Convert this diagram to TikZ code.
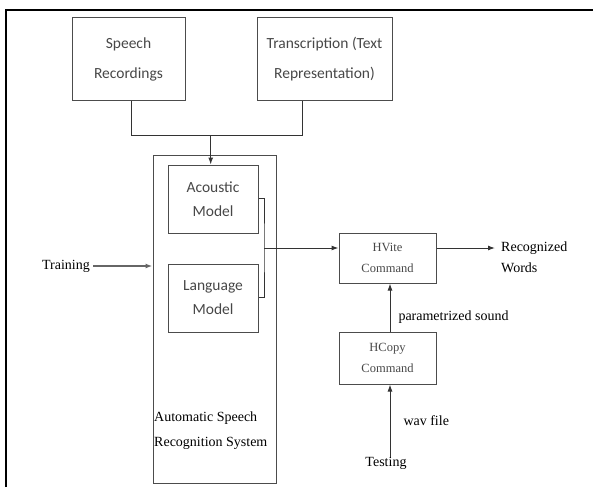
\documentclass[tikz,border=0pt]{standalone}
\usepackage{fontspec}
\setmainfont{Liberation Serif}
\newfontfamily\boxfont{Carlito}
\usetikzlibrary{arrows.meta}

\begin{document}
\begin{tikzpicture}[x=1pt,y=-1pt,
    box/.style={draw=black!70, line width=1pt, rectangle, inner sep=0pt,
      align=center, text=black!72},
    srcbox/.style={box, minimum height=82pt, font=\boxfont\fontsize{15.5}{30}\selectfont},
    modelbox/.style={box, minimum width=90pt, minimum height=68pt, font=\boxfont\fontsize{15.5}{24}\selectfont},
    cmdbox/.style={box, minimum width=97pt, font=\fontsize{12.5}{21}\selectfont},
    lbl/.style={font=\fontsize{14}{21}\selectfont, inner sep=0pt, align=left},
    conn/.style={draw=black!80, line width=1pt},
    arr/.style={conn, -{Latex[length=7pt,width=5pt]}}]
  \useasboundingbox (0,0) rectangle (593,487);
  % frame
  \draw[line width=2.5pt] (6,487) -- (6,10) -- (593,10);

  % inputs
  \node[srcbox, minimum width=113pt] (speech) at (128.5,59) {Speech\\Recordings};
  \node[srcbox, minimum width=135pt] (trans) at (324.5,59) {Transcription (Text\\Representation)};

  % recognizer
  \node[box, minimum width=123pt, minimum height=328pt] (asr) at (214.5,319) {};
  \node[modelbox] (acoustic) at (213,199) {Acoustic\\Model};
  \node[modelbox] (language) at (213,298) {Language\\Model};
  \node[lbl, anchor=west, font=\fontsize{14}{25}\selectfont] (asrtext) at (154,431)
    {Automatic Speech\\Recognition System};

  % commands
  \node[cmdbox, minimum height=50pt] (hvite) at (387.5,258) {HVite\\Command};
  \node[cmdbox, minimum height=52pt] (hcopy) at (387.5,358) {HCopy\\Command};

  \node[lbl] (training) at (66,266) {Training};
  \node[lbl] (testing) at (386,463) {Testing};
  \node[lbl, anchor=west] (words) at (501,257) {Recognized\\Words};

  \coordinate (join) at (210.7,135);
  \coordinate (merge) at (264,248);

  % connectors
  \draw[conn] (speech.south -| 131.6,0) |- ([xshift=-22pt]trans.south |- join)
    -- ([xshift=-22pt]trans.south);
  \draw[arr] (join) -- (join |- acoustic.north);
  \draw[conn] ([yshift=1pt]acoustic.east) -| (merge) |- ([yshift=1pt]language.east);
  \draw[arr] (merge) -- (merge -| hvite.west);
  \draw[arr] (merge -| hvite.east) -- (495,248);
  \draw[arr, line width=1.8pt, draw=black!60] ([xshift=3pt]training.east) -- (asr.west |- training.east);
  \draw[arr] (hcopy.north -| 390,0) -- node[lbl, right=8pt, pos=0.3] (param) {parametrized sound}
    (hvite.south -| 390,0);
  \draw[arr] (testing.north -| 390,0) -- node[lbl, right=13pt, pos=0.5] (wav) {wav file}
    (hcopy.south -| 390,0);
\end{tikzpicture}
\end{document}
